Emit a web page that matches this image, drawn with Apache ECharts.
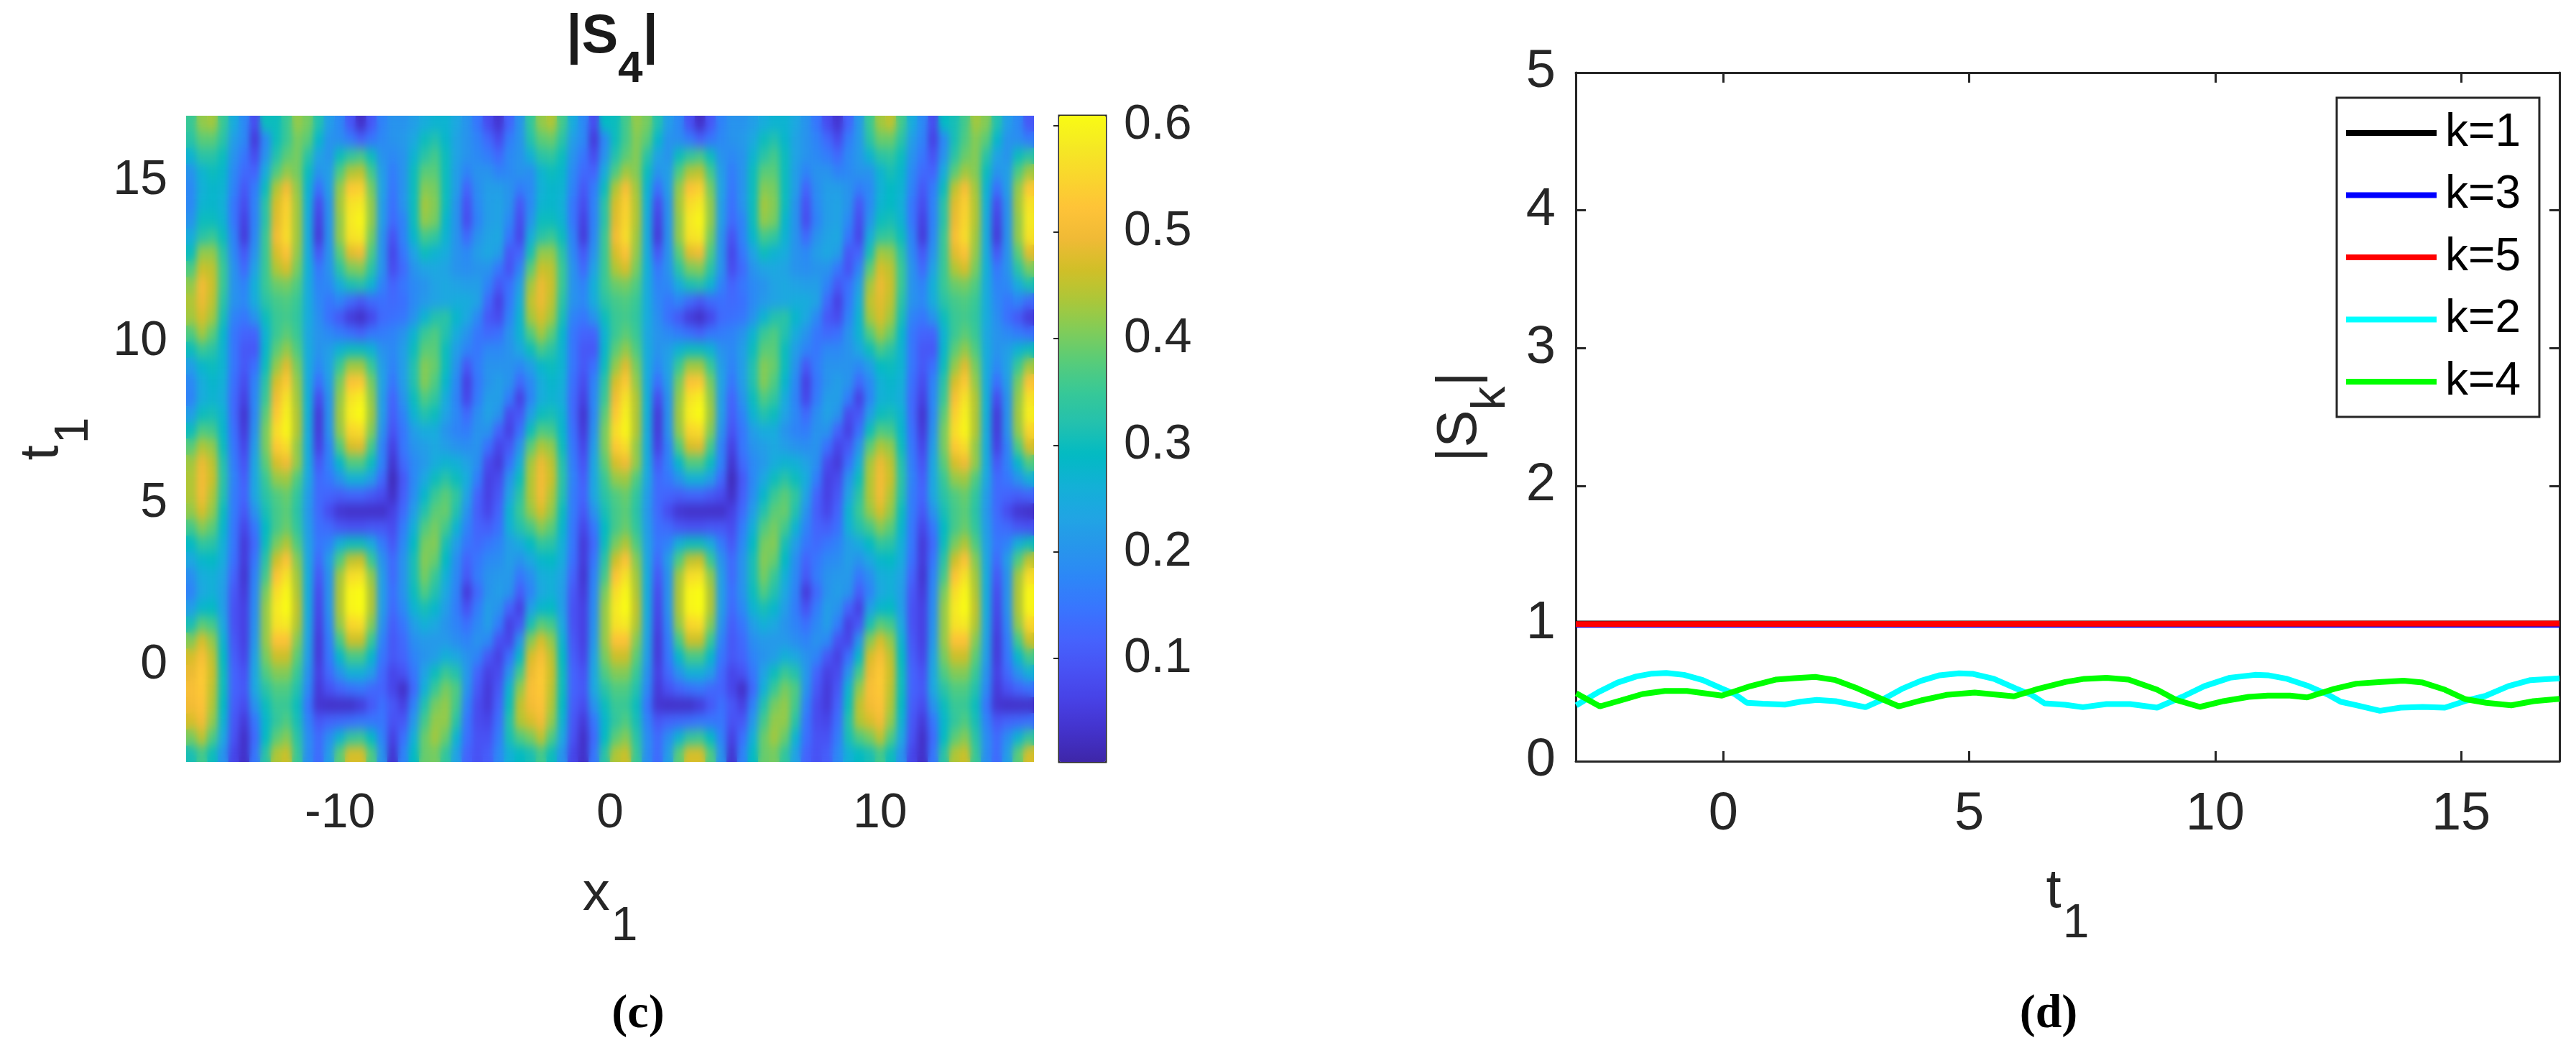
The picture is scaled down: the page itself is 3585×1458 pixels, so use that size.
<!DOCTYPE html>
<html><head><meta charset="utf-8">
<script src="https://cdn.jsdelivr.net/npm/echarts@6/dist/echarts.min.js"></script>
<style>
html,body{margin:0;padding:0;background:#fff;width:3585px;height:1458px;overflow:hidden}
#clip{position:absolute;left:259px;top:161px;width:1180px;height:899px;overflow:hidden}
#heat{position:absolute;left:0;top:0;width:1180px;height:899px;filter:url(#soft)}
#main{position:absolute;left:0;top:0;width:3585px;height:1458px}
</style></head><body>
<svg width="0" height="0" style="position:absolute"><filter id="soft" x="0" y="0" width="100%" height="100%" color-interpolation-filters="sRGB"><feGaussianBlur in="SourceGraphic" stdDeviation="4.5 8" result="b"/><feMerge><feMergeNode in="SourceGraphic"/><feMergeNode in="b"/></feMerge></filter></svg>
<div id="clip"><div id="heat"></div></div>
<div id="main"></div>
<script>
// |S4| in hundredths; rows run from t1 = 16.75 (top) down to t1 = -2.75 (bottom), columns from x1 = -15.7 to 15.7
const cells = [
[35,42,43,35,25,18,8,30,30,35,42,40,32,22,18,10,3,10,17,20,20,22,25,27,27,24,20,15,8,4,12,20, 34,42,44,36,25,18,8,29,30,36,42,40,32,22,18,9,3,10,17,20,20,22,25,27,27,24,20,15,8,4,12,21, 35,43,45,36,25,18,8,29,31,36,43,41,32,22,18,10],
[33,38,38,33,22,18,5,18,30,35,40,38,28,20,19,16,12,15,18,20,21,24,30,32,28,23,20,17,13,8,16,20, 32,38,39,33,22,18,5,18,30,36,41,38,28,20,19,16,12,15,18,20,21,24,30,32,28,23,20,17,13,8,16,21, 33,39,39,33,22,17,6,18,31,37,41,38,28,20,19,16],
[27,33,33,30,20,15,8,20,32,38,40,33,23,20,30,34,36,30,20,18,20,27,33,36,30,23,20,18,16,13,18,20, 26,33,34,30,20,15,8,20,32,38,41,33,23,20,30,34,36,30,20,18,20,27,33,36,30,23,20,18,16,13,18,21, 27,33,34,30,20,15,9,20,33,39,41,33,23,20,30,33],
[20,27,30,28,18,13,12,25,37,42,40,30,20,22,37,44,45,36,22,16,20,30,38,38,30,22,17,20,20,17,18,20, 19,27,30,28,18,13,12,25,37,43,41,30,20,22,37,44,45,36,22,16,20,30,38,38,30,22,17,20,20,17,18,20, 20,27,31,28,18,13,12,25,38,43,41,30,20,22,37,43],
[18,26,28,27,17,10,16,30,44,50,42,27,14,22,42,53,54,40,23,15,20,30,41,40,30,22,12,19,22,22,20,16, 18,26,28,27,17,10,16,30,44,51,43,27,14,22,42,52,54,40,23,15,20,30,41,40,30,22,12,19,22,22,20,16, 18,26,29,27,17,10,16,30,45,51,43,27,14,22,42,53],
[18,27,28,26,15,8,17,33,47,54,43,26,8,20,43,57,58,42,22,14,20,30,43,41,30,20,9,18,22,23,20,10, 18,27,28,26,15,8,17,33,47,54,44,26,8,20,43,56,58,42,22,14,20,30,43,41,30,20,9,18,22,23,20,10, 18,27,29,26,15,8,17,33,48,54,44,26,8,20,43,57],
[20,30,30,27,15,6,17,33,48,55,43,25,6,20,42,58,60,42,22,13,17,30,42,40,28,20,8,17,22,23,18,8, 20,30,30,27,15,6,17,33,48,55,44,25,6,20,42,58,60,42,22,13,17,30,42,40,28,20,8,17,22,23,18,8, 20,30,31,27,15,6,17,33,49,55,44,25,6,20,42,58],
[25,33,35,30,17,5,18,35,50,56,43,25,5,20,42,57,58,40,20,9,17,28,36,34,27,20,13,20,23,24,15,7, 25,33,35,30,17,5,18,35,50,56,43,25,5,20,42,57,58,40,20,9,17,28,36,34,27,20,13,20,23,24,15,7, 25,34,35,30,17,5,18,35,51,56,43,25,5,20,42,57],
[30,42,42,33,18,10,20,35,47,52,42,25,10,20,38,48,50,37,20,7,15,23,30,27,25,20,18,22,24,22,10,12, 31,42,42,33,18,10,20,35,47,52,42,25,10,20,38,48,50,37,20,7,15,23,30,27,25,20,18,22,24,22,10,12, 31,43,42,33,18,10,20,35,48,52,42,25,10,20,38,48],
[37,46,45,35,20,13,23,35,44,47,40,26,15,20,33,40,41,33,20,8,13,20,23,24,23,20,19,20,20,15,9,17, 38,46,45,35,20,13,23,35,44,47,40,26,15,20,33,40,41,33,20,8,13,20,23,24,23,20,19,20,20,15,9,17, 38,47,45,35,20,13,23,35,44,47,40,26,15,20,33,40],
[42,50,46,35,20,17,26,35,39,40,37,25,17,18,25,31,32,27,17,12,15,18,20,23,24,23,22,22,17,10,14,22, 43,49,46,35,20,17,26,35,39,40,37,25,17,18,25,31,32,27,17,12,15,18,20,23,24,23,22,22,17,10,14,22, 43,49,46,35,20,17,26,35,39,40,37,25,17,18,25,31],
[44,49,45,33,20,18,25,33,36,37,35,25,18,15,17,13,10,13,14,13,14,18,21,23,24,25,25,23,13,6,15,25, 45,49,45,33,20,18,25,33,36,37,35,25,18,15,17,13,10,13,14,13,14,18,21,23,24,25,25,23,13,6,15,25, 45,48,45,33,20,18,25,33,36,37,35,25,18,15,17,13],
[43,47,43,31,17,15,20,30,35,36,34,25,19,14,10,5,3,7,13,14,15,20,27,32,33,28,24,18,10,8,17,27, 43,47,43,31,17,15,20,30,35,36,34,25,19,14,10,5,3,7,13,14,15,20,27,32,33,28,24,18,10,8,17,27, 43,47,43,31,17,15,20,30,35,36,34,25,19,14,10,5],
[37,43,38,28,15,12,12,27,35,38,35,24,20,18,16,14,12,15,16,17,20,27,35,37,32,25,20,15,13,14,20,27, 37,43,38,28,15,12,12,27,35,38,35,24,20,18,16,14,12,15,16,17,20,27,35,37,32,25,20,15,13,14,20,27, 37,43,39,28,15,12,12,27,35,38,35,24,20,18,16,14],
[30,35,33,27,15,10,10,28,38,42,37,25,20,22,27,30,30,27,20,18,22,30,38,38,30,22,17,15,18,18,20,24, 30,36,33,27,15,10,10,28,38,42,37,25,20,22,27,30,30,27,20,18,22,30,38,38,30,22,17,15,18,18,20,24, 30,36,33,27,15,10,10,28,38,42,37,25,20,22,27,30],
[22,28,30,27,15,10,14,30,42,48,40,25,18,23,35,43,43,35,22,17,22,32,41,39,30,20,10,16,20,20,20,18, 22,28,30,27,15,10,14,30,42,48,40,25,18,23,35,43,43,35,22,17,22,32,41,39,30,20,10,16,20,20,20,18, 22,29,30,27,15,10,14,30,42,48,40,25,18,23,35,43],
[18,25,28,26,14,8,17,33,47,53,42,25,14,22,40,52,53,40,23,15,22,32,41,37,28,18,6,15,20,22,20,13, 18,25,28,26,14,8,17,33,47,53,42,25,14,22,40,52,53,40,23,15,22,32,41,37,28,18,6,15,20,22,20,13, 18,26,28,26,14,8,17,33,47,53,42,25,14,22,40,52],
[17,25,27,25,13,6,18,35,50,57,43,26,8,20,42,57,59,42,22,12,20,30,37,34,25,17,7,16,22,22,16,6, 17,25,27,25,13,6,18,35,50,57,44,26,8,20,42,57,59,42,22,12,20,30,37,34,25,17,7,16,22,22,16,6, 17,26,27,25,13,6,18,35,51,57,44,26,8,20,42,57],
[22,30,31,27,13,4,18,38,53,59,44,26,5,20,43,59,61,43,22,11,17,27,32,30,23,18,13,19,23,20,8,10, 22,30,31,27,13,4,18,38,53,59,44,26,5,20,43,59,61,43,22,11,17,27,32,30,23,18,13,19,23,20,8,10, 22,30,31,27,13,4,18,38,54,59,44,26,5,20,43,59],
[30,37,36,28,14,5,20,40,56,60,44,25,5,20,42,55,56,41,20,9,15,22,25,25,20,17,16,20,20,12,6,14, 30,37,36,28,14,5,20,40,56,60,44,25,5,20,42,55,56,41,20,9,15,22,25,25,20,17,16,20,20,12,6,14, 30,37,36,28,14,5,20,40,56,60,44,25,5,20,42,55],
[38,44,42,30,15,7,22,40,53,56,42,25,6,17,37,47,48,36,17,6,15,20,22,24,22,20,19,20,14,7,10,20, 38,44,42,30,15,7,22,40,53,56,42,25,6,17,37,47,48,36,17,6,15,20,22,24,22,20,19,20,14,7,10,20, 38,44,42,30,15,7,22,40,53,56,42,25,6,17,37,47],
[43,49,45,32,16,9,24,38,47,50,42,25,10,17,28,37,37,30,17,4,13,18,21,25,27,26,23,19,8,5,14,25, 43,49,45,32,16,9,24,38,47,50,42,25,10,17,28,37,37,30,17,4,13,18,21,25,27,26,23,19,8,5,14,25, 43,49,45,32,16,9,24,38,47,50,42,25,10,17,28,37],
[44,50,46,33,17,11,24,35,42,43,37,24,13,15,20,26,26,22,13,2,10,18,24,30,33,30,25,16,6,8,20,30, 44,50,46,33,17,11,24,35,42,43,37,24,13,15,20,26,26,22,13,2,10,18,24,30,33,30,25,16,6,8,20,30, 44,50,46,33,17,11,24,35,42,43,37,24,13,15,20,26],
[44,50,44,32,16,12,24,33,37,39,34,22,13,12,11,12,12,10,8,3,11,19,28,35,38,34,23,12,6,10,23,33, 44,50,44,32,16,12,24,33,37,39,34,22,13,12,11,12,12,10,8,3,11,19,28,35,38,34,23,12,6,10,23,33, 44,50,44,32,16,12,24,33,37,39,34,22,13,12,11,12],
[42,47,42,30,16,10,20,31,36,38,33,21,13,8,4,3,3,3,3,6,13,22,32,38,39,32,20,11,7,12,27,35, 42,47,42,30,16,10,20,31,36,38,33,21,13,8,4,3,3,3,3,6,13,22,32,38,39,32,20,11,7,12,27,35, 42,47,42,30,16,10,20,31,36,38,33,21,13,8,4,3],
[36,41,38,28,15,7,15,29,36,39,34,22,14,13,10,9,9,10,10,8,16,26,37,40,36,27,17,12,11,14,26,32, 36,41,38,28,15,7,15,29,36,39,34,22,14,13,10,9,9,10,10,8,16,26,37,40,36,27,17,12,11,14,26,32, 36,41,38,28,15,7,15,29,36,39,34,22,14,13,10,9],
[29,34,33,26,15,5,13,30,40,44,37,23,15,17,26,30,30,25,16,10,18,29,40,41,31,22,15,13,15,17,22,25, 29,34,33,26,15,5,13,30,40,44,37,23,15,17,26,30,30,25,16,10,18,29,40,41,31,22,15,13,15,17,22,25, 29,34,33,26,15,5,13,30,40,44,37,23,15,17,26,30],
[24,28,29,25,14,5,15,33,46,52,41,24,13,22,37,45,46,35,20,13,20,31,41,39,29,19,12,15,18,19,22,20, 24,28,29,25,14,5,15,33,46,52,41,24,13,22,37,45,46,35,20,13,20,31,41,39,29,19,12,15,18,19,22,20, 24,28,29,25,14,5,15,33,46,52,41,24,13,22,37,45],
[19,25,26,23,12,4,17,36,52,57,43,25,10,20,43,56,57,42,22,13,20,31,40,35,26,18,10,16,20,21,21,15, 19,25,26,23,12,4,17,36,52,57,43,25,10,20,43,56,57,42,22,13,20,31,40,35,26,18,10,16,20,21,21,15, 19,25,26,23,12,4,17,36,52,57,43,25,10,20,43,56],
[17,24,26,22,10,5,18,40,56,60,44,25,8,20,44,60,61,44,22,14,20,30,37,32,24,17,5,13,20,22,20,11, 17,24,26,22,10,5,18,40,56,60,44,25,8,20,44,60,61,44,22,14,20,30,37,32,24,17,5,13,20,22,20,11, 17,24,26,22,10,5,18,40,56,60,44,25,8,20,44,60],
[22,28,29,22,9,6,19,42,58,61,45,25,7,20,44,60,61,44,22,13,18,27,31,28,22,16,9,16,22,20,12,6, 22,28,29,22,9,6,19,42,58,61,45,25,7,20,44,60,61,44,22,13,18,27,31,28,22,16,9,16,22,20,12,6, 22,28,29,22,9,6,19,42,58,61,45,25,7,20,44,60],
[31,38,36,24,9,6,20,42,57,58,44,24,6,18,42,55,56,41,20,11,15,22,26,24,20,17,14,18,22,16,6,10, 31,38,36,24,9,6,20,42,57,58,44,24,6,18,42,55,56,41,20,11,15,22,26,24,20,17,14,18,22,16,6,10, 31,38,36,24,9,6,20,42,57,58,44,24,6,18,42,55],
[41,47,42,27,10,6,21,42,52,52,41,23,5,16,36,46,46,35,17,10,13,19,21,21,21,19,17,20,18,9,7,20, 41,47,42,27,10,6,21,42,52,52,41,23,5,16,36,46,46,35,17,10,13,19,21,21,21,19,17,20,18,9,7,20, 41,47,42,27,10,6,21,42,52,52,41,23,5,16,36,46],
[47,51,45,29,11,7,23,40,46,46,38,22,5,15,28,36,36,28,15,10,12,17,20,22,26,24,20,17,10,6,14,28, 47,51,45,29,11,7,23,40,46,46,38,22,5,15,28,36,36,28,15,10,12,17,20,22,26,24,20,17,10,6,14,28, 47,51,45,29,11,7,23,40,46,46,38,22,5,15,28,36],
[49,53,46,30,12,9,24,37,41,41,35,20,6,13,20,26,26,22,13,7,9,15,23,30,35,32,21,12,6,8,20,36, 49,53,46,30,12,9,24,37,41,41,35,20,6,13,20,26,26,22,13,7,9,15,23,30,35,32,21,12,6,8,20,36, 49,53,46,30,12,9,24,37,41,41,35,20,6,13,20,26],
[51,53,45,30,12,10,24,33,37,37,32,18,5,9,12,14,15,13,12,7,3,13,26,35,40,37,20,10,5,10,27,42, 51,53,45,30,12,10,24,33,37,37,32,18,5,9,12,14,15,13,12,7,3,13,26,35,40,37,20,10,5,10,27,42, 51,53,45,30,12,10,24,33,37,37,32,18,5,9,12,14],
[50,52,44,29,11,8,20,30,35,35,30,15,4,3,3,3,5,10,14,10,6,17,32,40,42,36,17,8,5,12,30,45, 50,52,44,29,11,8,20,30,35,35,30,15,4,3,3,3,5,10,14,10,6,17,32,40,42,36,17,8,5,12,30,45, 50,52,44,29,11,8,20,30,35,35,30,15,4,3,3,3],
[47,50,42,27,10,5,15,28,34,37,31,17,10,12,13,14,15,15,15,9,10,21,36,42,42,33,15,8,7,14,32,44, 47,50,42,27,10,5,15,28,34,37,31,17,10,12,13,14,15,15,15,9,10,21,36,42,42,33,15,8,7,14,32,44, 47,50,42,27,10,5,15,28,34,37,31,17,10,12,13,14],
[40,45,37,24,9,3,13,29,38,41,33,19,13,19,27,34,35,29,17,6,14,26,39,43,39,27,14,9,9,16,31,37, 40,45,37,24,9,3,13,29,38,41,33,19,13,19,27,34,35,29,17,6,14,26,39,43,39,27,14,9,9,16,31,37, 40,45,37,24,9,3,13,29,38,41,33,19,13,19,27,34],
[31,36,30,20,7,3,15,33,44,46,35,19,13,22,38,47,47,37,20,4,17,29,39,40,34,23,12,9,11,18,26,29, 31,36,30,20,7,3,15,33,44,46,35,19,13,22,38,47,47,37,20,4,17,29,39,40,34,23,12,9,11,18,26,29, 31,36,30,20,7,3,15,33,44,46,35,19,13,22,38,47]
];
const columnCount = 80;
const tRowCount = 40;
const barLevelMin = 0.003;
const barLevelMax = 0.609;
const barTicks = [0.1,0.2,0.3,0.4,0.5,0.6];
const x1Ticks = [-10,0,10];
const t1TicksLeft = [0,5,10,15];
const t1TicksRight = [0,5,10,15];
const parula = ['#3e26a8','#4332cb','#4741e5','#4852f4','#4563fd','#3875fe','#2d87f7','#2796eb','#20a5e3','#12b1d6','#02bac3','#24c1ae','#37c897','#57cc7a','#80cc59','#abc739','#d1bf27','#f0ba36','#fec338','#f9d62d','#f5e924','#f9fb14'];

const legendNames = ['k=1','k=3','k=5','k=2','k=4'];
const legendColors = ['#000000','#0000ff','#ff0000','#00ffff','#00ff00'];
const k1Line = [[-3,1],[17,1]];
const k3Line = [[-3,0.99],[17,0.99]];
const k5Line = [[-3,0.995],[-2.3,0.995],[-2.3,1],[17,1]];
const k2Line = [[-2.99,.406],[-2.54,.502],[-2.15,.571],[-1.77,.615],[-1.45,.636],[-1.16,.641],[-.8,.627],[-.42,.589],[-.03,.528],[.23,.488],[.48,.424],[.8,.418],[1.25,.411],[1.57,.432],[1.9,.445],[2.28,.436],[2.89,.392],[3.25,.45],[3.63,.525],[4.02,.584],[4.4,.624],[4.79,.638],[5.08,.634],[5.5,.598],[5.95,.528],[6.27,.481],[6.53,.42],[6.95,.41],[7.31,.392],[7.79,.415],[8.27,.415],[8.82,.389],[9.33,.467],[9.78,.545],[10.3,.606],[10.81,.627],[11.07,.624],[11.46,.598],[11.9,.545],[12.29,.484],[12.55,.432],[12.87,.406],[13.35,.366],[13.77,.389],[14.22,.394],[14.67,.389],[15.12,.441],[15.51,.476],[15.96,.545],[16.41,.589],[17,.601]];
const k4Line = [[-2.99,.493],[-2.51,.398],[-2.09,.441],[-1.64,.488],[-1.19,.51],[-.74,.51],[-.03,.476],[.55,.545],[1.06,.592],[1.45,.603],[1.87,.612],[2.28,.589],[2.73,.528],[3.12,.467],[3.57,.398],[4.02,.441],[4.53,.481],[5.11,.498],[5.91,.471],[6.4,.525],[6.95,.575],[7.34,.598],[7.79,.606],[8.24,.592],[8.82,.519],[9.2,.446],[9.69,.394],[10.17,.436],[10.68,.467],[11.07,.476],[11.52,.476],[11.87,.463],[12.42,.525],[12.87,.563],[13.38,.575],[13.83,.584],[14.22,.571],[14.67,.519],[15.09,.45],[15.51,.424],[16.02,.406],[16.47,.436],[17,.453]];

const FONT = '"Liberation Sans", Arial, sans-serif';
const SERIF = '"Liberation Serif", serif';
const INK = '#262626';
const heatData = [];
cells.forEach((row, r) => row.forEach((v, c) => heatData.push([c, tRowCount - 1 - r, v / 100])));

const heat = echarts.init(document.getElementById('heat'), null, {renderer:'canvas'});
heat.setOption({
  animation:false,
  grid:{left:0,right:0,top:0,bottom:0},
  xAxis:{type:'category',show:false,data:Array.from({length:columnCount},(_, i)=>i)},
  yAxis:{type:'category',show:false,data:Array.from({length:tRowCount},(_, i)=>i)},
  visualMap:{show:false,min:barLevelMin,max:barLevelMax,inRange:{color:parula},seriesIndex:0},
  series:[{type:'heatmap',data:heatData,silent:true,progressive:0,emphasis:{disabled:true}}]
});

function sub(base, s){ return base + '{s|' + s + '}'; }
const subStyle = {s:{fontFamily:FONT,fontSize:66,color:INK,padding:[90,0,0,2]}};
const main = echarts.init(document.getElementById('main'), null, {renderer:'canvas'});
const plainAxis = { axisLine:{show:false}, axisTick:{show:false}, splitLine:{show:false} };
function boxLine(){ return {show:true,onZero:false,lineStyle:{color:INK,width:3}}; }
function lineSeries(name, data, color){
  return {type:'line',name,data,xAxisIndex:2,yAxisIndex:2,showSymbol:false,symbol:'none',silent:true,
          lineStyle:{color,width:8,cap:'butt',join:'bevel'},itemStyle:{color},clip:true};
}
main.setOption({
  animation:false,
  backgroundColor:'transparent',
  textStyle:{fontFamily:FONT},
  title:[
    {text:'|S{s|4}|',left:847,top:-29,textAlign:'center',
     textStyle:{fontFamily:FONT,fontWeight:'bold',fontSize:76,color:'#1a1a1a',
       rich:{s:{fontFamily:FONT,fontWeight:'bold',fontSize:62,color:'#1a1a1a',padding:[90,0,0,0]}}}},
    {text:'({b|c})',left:883,top:1374,textAlign:'center',
     textStyle:{fontFamily:SERIF,fontSize:66,color:'#000',
       rich:{b:{fontFamily:SERIF,fontWeight:'bold',fontSize:66,color:'#000'}}}},
    {text:'({b|d})',left:2846,top:1374,textAlign:'center',
     textStyle:{fontFamily:SERIF,fontSize:66,color:'#000',
       rich:{b:{fontFamily:SERIF,fontWeight:'bold',fontSize:66,color:'#000'}}}}
  ],
  grid:[
    {left:259,top:161,width:1180,height:899},
    {left:1474,top:161,width:65,height:899,show:true,borderColor:INK,borderWidth:3,backgroundColor:'transparent'},
    {left:2193,top:101,width:1369,height:958}
  ],
  visualMap:[{type:'continuous',show:true,min:barLevelMin,max:barLevelMax,seriesIndex:99,left:1474,top:161,
    itemWidth:65,itemHeight:899,padding:0,text:['',''],calculable:false,realtime:false,
    inRange:{color:parula},textStyle:{fontSize:1,color:'transparent'},showLabel:false,handleSize:0,indicatorSize:0}],
  xAxis:[
    Object.assign({gridIndex:0,type:'value',min:-15.7,max:15.7,
      axisLabel:{fontSize:68,color:INK,margin:38,customValues:x1Ticks,fontFamily:FONT},
      name:sub('x','1'),nameLocation:'middle',nameGap:107,
      nameTextStyle:{fontFamily:FONT,fontSize:76,color:INK,rich:subStyle}},plainAxis),
    {gridIndex:1,type:'value',min:0,max:1,show:false},
    {gridIndex:2,type:'value',min:-3,max:17,position:'bottom',
      axisLine:boxLine(),
      axisTick:{show:true,inside:true,length:14,lineStyle:{color:INK,width:3},customValues:t1TicksRight},
      axisLabel:{fontSize:74,color:INK,margin:38,customValues:t1TicksRight,fontFamily:FONT},
      splitLine:{show:false},
      name:sub('t','1'),nameLocation:'middle',nameGap:104,
      nameTextStyle:{fontFamily:FONT,fontSize:76,color:INK,rich:subStyle}},
    {gridIndex:2,type:'value',min:-3,max:17,position:'top',
      axisLine:boxLine(),
      axisTick:{show:true,inside:true,length:14,lineStyle:{color:INK,width:3},customValues:t1TicksRight},
      axisLabel:{show:false},splitLine:{show:false}}
  ],
  yAxis:[
    Object.assign({gridIndex:0,type:'value',min:-3,max:17,
      axisLabel:{fontSize:68,color:INK,margin:26,customValues:t1TicksLeft,fontFamily:FONT,padding:[12,0,0,0]},
      name:sub('t','1'),nameLocation:'middle',nameGap:122,nameRotate:90,
      nameTextStyle:{fontFamily:FONT,fontSize:76,color:INK,rich:subStyle}},plainAxis),
    {gridIndex:1,type:'value',min:barLevelMin,max:barLevelMax,position:'right',
      axisLine:{show:false},
      axisTick:{show:true,inside:true,length:8,lineStyle:{color:INK,width:2},customValues:barTicks},
      axisLabel:{fontSize:68,color:INK,margin:25,customValues:barTicks,fontFamily:FONT,padding:[10,0,0,0],formatter:v=>Number(v).toFixed(1)},
      splitLine:{show:false}},
    {gridIndex:2,type:'value',min:0,max:5,interval:1,position:'left',
      axisLine:boxLine(),
      axisTick:{show:true,inside:true,length:14,lineStyle:{color:INK,width:3}},
      axisLabel:{fontSize:74,color:INK,margin:28,fontFamily:FONT,padding:[6,0,0,0]},splitLine:{show:false},
      name:'|S{s|k}|',nameLocation:'middle',nameGap:84,nameRotate:90,
      nameTextStyle:{fontFamily:FONT,fontSize:78,color:INK,rich:{s:{fontFamily:FONT,fontSize:66,color:INK,padding:[88,0,0,0]}}}},
    {gridIndex:2,type:'value',min:0,max:5,interval:1,position:'right',
      axisLine:boxLine(),
      axisTick:{show:true,inside:true,length:14,lineStyle:{color:INK,width:3}},
      axisLabel:{show:false},splitLine:{show:false}}
  ],
  legend:{orient:'vertical',left:3252,top:136,padding:[17,26,17,13],icon:'rect',itemWidth:126,itemHeight:8,itemGap:22.5,
    borderColor:INK,borderWidth:3,backgroundColor:'#fff',data:legendNames,z:20,
    textStyle:{fontFamily:FONT,fontSize:64,color:'#000',padding:[0,0,0,7]}},
  series:[
    lineSeries(legendNames[0],k1Line,legendColors[0]),
    lineSeries(legendNames[1],k3Line,legendColors[1]),
    lineSeries(legendNames[2],k5Line,legendColors[2]),
    lineSeries(legendNames[3],k2Line,legendColors[3]),
    lineSeries(legendNames[4],k4Line,legendColors[4])
  ]
});
</script>
</body></html>
